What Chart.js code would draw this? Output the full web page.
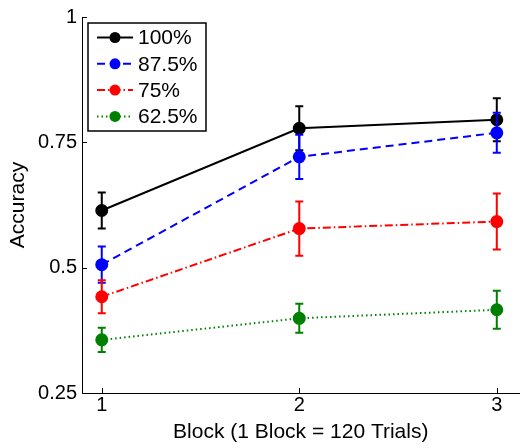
<!DOCTYPE html>
<html>
<head>
<meta charset="utf-8">
<script src="https://cdn.jsdelivr.net/npm/chart.js@4.4.1/dist/chart.umd.min.js"></script>
<style>
  html, body { margin: 0; padding: 0; background: #fff; }
</style>
</head>
<body>
<canvas id="myChart" width="527" height="448"></canvas>
<script>
// Data
const blocks = [1, 2, 3];
const seriesLabels = ["100%", "87.5%", "75%", "62.5%"];
const acc100 = [0.614, 0.778, 0.795];
const err100 = [0.036, 0.044, 0.043];
const acc875 = [0.506, 0.721, 0.769];
const err875 = [0.036, 0.044, 0.040];
const acc75 = [0.442, 0.578, 0.592];
const err75 = [0.033, 0.054, 0.056];
const acc625 = [0.356, 0.399, 0.416];
const err625 = [0.024, 0.029, 0.038];
const yTicks = [0.25, 0.5, 0.75, 1];
const xTicks = [1, 2, 3];

Chart.defaults.font.family = "'Liberation Sans', Arial, Helvetica, sans-serif";
Chart.defaults.color = "#000";

function points(values) {
  return blocks.map((b, i) => ({ x: b, y: values[i] }));
}

// error bars, drawn right after each dataset
const errorBars = {
  id: "errorBars",
  afterDatasetDraw(chart, args) {
    const ds = chart.data.datasets[args.index];
    const xs = chart.scales.x;
    const ys = chart.scales.y;
    const ctx = chart.ctx;
    ctx.save();
    ctx.strokeStyle = ds.borderColor;
    ctx.lineWidth = 2;
    ctx.setLineDash([]);
    ds.data.forEach((p, i) => {
      const e = ds.errors[i];
      const x = xs.getPixelForValue(p.x);
      const top = ys.getPixelForValue(p.y + e);
      const bot = ys.getPixelForValue(p.y - e);
      ctx.beginPath();
      ctx.moveTo(x, top);
      ctx.lineTo(x, bot);
      ctx.moveTo(x - 4, top);
      ctx.lineTo(x + 4, top);
      ctx.moveTo(x - 4, bot);
      ctx.lineTo(x + 4, bot);
      ctx.stroke();
    });
    ctx.restore();
  },
};

// inward ticks like matlab
const innerTicks = {
  id: "innerTicks",
  afterDraw(chart) {
    const xs = chart.scales.x;
    const ys = chart.scales.y;
    const area = chart.chartArea;
    const ctx = chart.ctx;
    ctx.save();
    ctx.strokeStyle = "#000";
    ctx.lineWidth = 1;
    ctx.beginPath();
    xTicks.forEach((t) => {
      const x = Math.round(xs.getPixelForValue(t)) + 0.5;
      ctx.moveTo(x, area.bottom);
      ctx.lineTo(x, area.bottom - 5);
    });
    yTicks.forEach((t) => {
      const y = Math.round(ys.getPixelForValue(t)) + 0.5;
      ctx.moveTo(area.left, y);
      ctx.lineTo(area.left + 5, y);
    });
    ctx.stroke();
    ctx.restore();
  },
};

// legend box in the top left corner
const boxLegend = {
  id: "boxLegend",
  afterDraw(chart) {
    const ctx = chart.ctx;
    const area = chart.chartArea;
    const left = area.left + 6;
    const top = area.top + 6;
    const w = 118;
    const h = 108;
    ctx.save();
    ctx.fillStyle = "#fff";
    ctx.fillRect(left, top, w, h);
    ctx.strokeStyle = "#000";
    ctx.lineWidth = 1.5;
    ctx.setLineDash([]);
    ctx.strokeRect(left, top, w, h);
    chart.data.datasets.forEach((ds, i) => {
      const y = top + 14.5 + i * 26.3;
      ctx.strokeStyle = ds.borderColor;
      ctx.lineWidth = ds.borderWidth;
      ctx.setLineDash(ds.borderDash || []);
      ctx.beginPath();
      ctx.moveTo(left + 9, y);
      ctx.lineTo(left + 45, y);
      ctx.stroke();
      ctx.setLineDash([]);
      ctx.fillStyle = ds.borderColor;
      ctx.beginPath();
      ctx.arc(left + 27, y, ds.pointRadius, 0, Math.PI * 2);
      ctx.fill();
      ctx.fillStyle = "#000";
      ctx.font = "21px 'Liberation Sans', Arial, sans-serif";
      ctx.textBaseline = "middle";
      ctx.textAlign = "left";
      ctx.fillText(ds.label, left + 50, y + 1);
    });
    ctx.restore();
  },
};

const data = {
  datasets: [
    {
      label: seriesLabels[0],
      data: points(acc100),
      errors: err100,
      borderColor: "#000000",
      backgroundColor: "#000000",
      borderWidth: 2,
      pointRadius: 5.5,
      order: 4,
    },
    {
      label: seriesLabels[1],
      data: points(acc875),
      errors: err875,
      borderColor: "#0000ff",
      backgroundColor: "#0000ff",
      borderWidth: 2,
      borderDash: [8, 5],
      pointRadius: 5.5,
      order: 3,
    },
    {
      label: seriesLabels[2],
      data: points(acc75),
      errors: err75,
      borderColor: "#ff0000",
      backgroundColor: "#ff0000",
      borderWidth: 2,
      borderDash: [8, 3, 1.5, 3],
      pointRadius: 5.5,
      order: 2,
    },
    {
      label: seriesLabels[3],
      data: points(acc625),
      errors: err625,
      borderColor: "#008000",
      backgroundColor: "#008000",
      borderWidth: 2,
      borderDash: [1.5, 3],
      pointRadius: 5.5,
      order: 1,
    },
  ],
};

const config = {
  type: "line",
  data: data,
  options: {
    responsive: false,
    animation: false,
    devicePixelRatio: 1,
    layout: { padding: { top: 14, right: 0, left: 0, bottom: 0 } },
    elements: {
      line: { tension: 0, fill: false },
      point: { borderWidth: 0, hoverRadius: 5.5 },
    },
    scales: {
      x: {
        type: "linear",
        min: 0.9,
        max: 3.115,
        afterFit: (scale) => { scale.height = 55; },
        afterBuildTicks: (scale) => { scale.ticks = xTicks.map((v) => ({ value: v })); },
        grid: { display: false, drawTicks: false },
        border: { display: true, color: "#000", width: 1 },
        ticks: { font: { size: 20 }, padding: 0, color: "#000", maxRotation: 0, callback: (v) => String(v) },
        title: {
          display: true,
          text: "Block (1 Block = 120 Trials)",
          font: { size: 21 },
          color: "#000",
          padding: { top: 0, bottom: 3 },
        },
      },
      y: {
        min: 0.25,
        max: 1,
        afterFit: (scale) => { scale.width = 82; },
        afterBuildTicks: (scale) => { scale.ticks = yTicks.map((v) => ({ value: v })); },
        grid: { display: false, drawTicks: false },
        border: { display: true, color: "#000", width: 1 },
        ticks: { font: { size: 20 }, padding: 5, color: "#000", callback: (v) => String(v) },
        title: {
          display: true,
          text: "Accuracy",
          font: { size: 21 },
          color: "#000",
          padding: { top: 6, bottom: 0 },
        },
      },
    },
    plugins: {
      legend: { display: false },
      tooltip: { enabled: false },
    },
  },
  plugins: [errorBars, innerTicks, boxLegend],
};

myChart = new Chart(document.getElementById("myChart"), config);
</script>
</body>
</html>
